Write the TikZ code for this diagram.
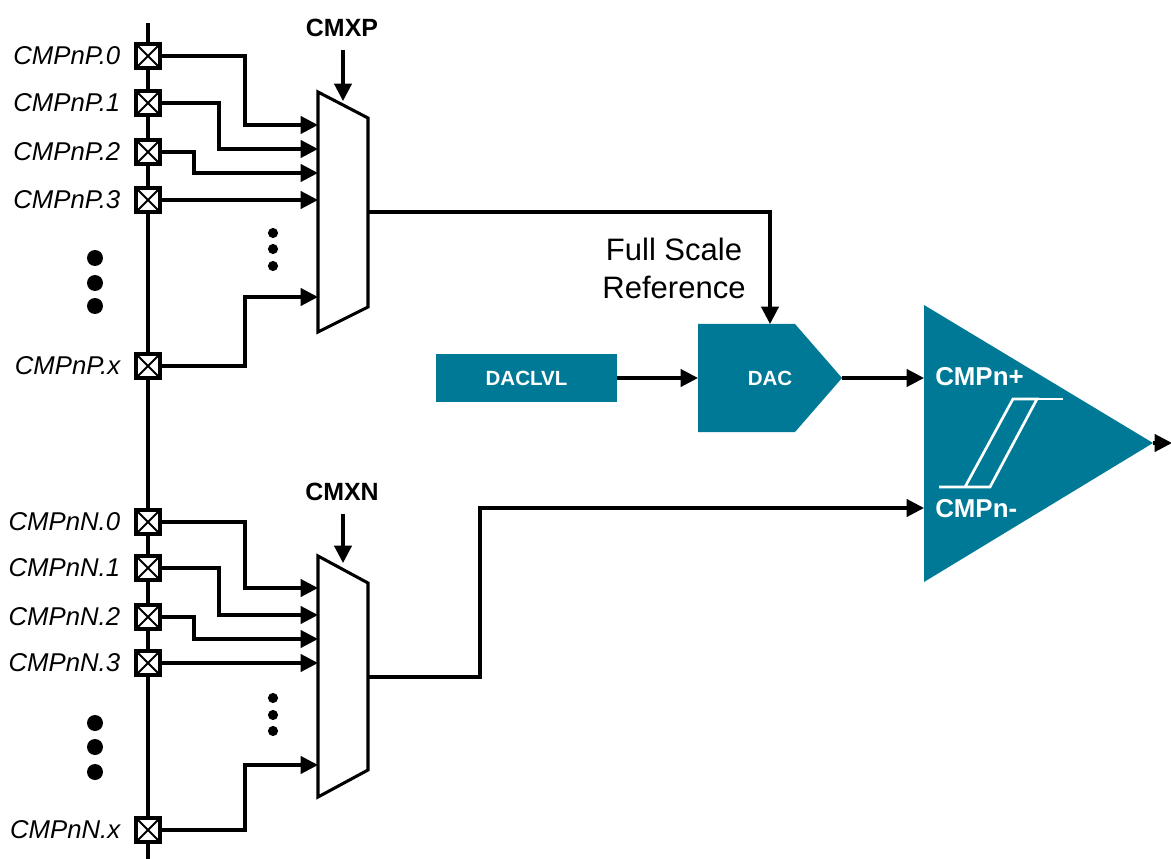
\documentclass[tikz,border=0pt]{standalone}
\usepackage{fontspec}
\setmainfont{Liberation Sans}
\usetikzlibrary{arrows.meta}
\definecolor{tiTeal}{RGB}{0,121,151}
\begin{document}
\begin{tikzpicture}[x=0.75pt,y=-0.75pt,
  wire/.style={line width=2.3pt},
  arr/.style={wire,-{Triangle[length=13pt,width=13pt]}},
  pinbox/.style={draw,line width=2.3pt,fill=white,minimum size=18pt,inner sep=0pt,
    path picture={\draw[line width=1.5pt] (path picture bounding box.north west)--(path picture bounding box.south east)
      (path picture bounding box.south west)--(path picture bounding box.north east);}},
  pinlabel/.style={anchor=east,font=\itshape\fontsize{19.3}{22}\selectfont,inner sep=0pt},
  muxlabel/.style={font=\bfseries\fontsize{18.7}{22}\selectfont},
  muxshape/.style={draw,line width=2.3pt,fill=white},
  tealbox/.style={fill=tiTeal,text=white,font=\bfseries\fontsize{15.4}{18}\selectfont,inner sep=0pt},
  cmplabel/.style={anchor=west,text=white,font=\bfseries\fontsize{19.4}{22}\selectfont,inner sep=0pt},
  dot/.style={fill=black}
]
\useasboundingbox (0,0) rectangle (1171,859);

% bus
\coordinate (busTop) at (148,23);
\coordinate (busBot) at (148,862);
\draw[wire] (busTop) -- (busBot);

% ---------------- P side ----------------
\node[pinbox] (p0) at (148,56) {};
\node[pinbox] (p1) at (148,103) {};
\node[pinbox] (p2) at (148,152) {};
\node[pinbox] (p3) at (148,200) {};
\node[pinbox] (px) at (148,366) {};
\node[pinlabel] (lp0) at ([xshift=-10.5pt]p0.west) {CMPnP.0};
\node[pinlabel] (lp1) at ([xshift=-10.5pt]p1.west) {CMPnP.1};
\node[pinlabel] (lp2) at ([xshift=-10.5pt]p2.west) {CMPnP.2};
\node[pinlabel] (lp3) at ([xshift=-10.5pt]p3.west) {CMPnP.3};
\node[pinlabel] (lpx) at ([xshift=-10.5pt]px.west) {CMPnP.x};

\draw[muxshape] (318,92) coordinate (mPtl) -- (368,118) coordinate (mPtr) -- (368,307) coordinate (mPbr) -- (318,332) coordinate (mPbl) -- cycle;
\coordinate (mPi0) at (318,125);
\coordinate (mPi1) at (318,149);
\coordinate (mPi2) at (318,173);
\coordinate (mPi3) at (318,200);
\coordinate (mPix) at (318,297);
\coordinate (mPo) at (368,212);

\draw[arr] (p0.east) -| (245,125) -- (mPi0);
\draw[arr] (p1.east) -| (219,149) -- (mPi1);
\draw[arr] (p2.east) -| (194,173) -- (mPi2);
\draw[arr] (p3.east) -- (mPi3);
\draw[arr] (px.east) -| (245,297) -- (mPix);

\node[muxlabel] (cmxp) at (342,28) {CMXP};
\coordinate (cmxpTip) at (343,101);
\draw[arr] ([yshift=-6.5pt]cmxp.south -| cmxpTip) -- (cmxpTip);

\fill[dot] (95,258) circle[radius=6pt] (95,283) circle[radius=6pt] (95,306) circle[radius=6pt];
\fill[dot] (273,233) circle[radius=3.8pt] (273,249) circle[radius=3.8pt] (273,266) circle[radius=3.8pt];

% ---------------- N side ----------------
\node[pinbox] (n0) at (148,522) {};
\node[pinbox] (n1) at (148,568) {};
\node[pinbox] (n2) at (148,617) {};
\node[pinbox] (n3) at (148,663) {};
\node[pinbox] (nx) at (148,830) {};
\node[pinlabel] (ln0) at ([xshift=-10.5pt]n0.west) {CMPnN.0};
\node[pinlabel] (ln1) at ([xshift=-10.5pt]n1.west) {CMPnN.1};
\node[pinlabel] (ln2) at ([xshift=-10.5pt]n2.west) {CMPnN.2};
\node[pinlabel] (ln3) at ([xshift=-10.5pt]n3.west) {CMPnN.3};
\node[pinlabel] (lnx) at ([xshift=-10.5pt]nx.west) {CMPnN.x};

\draw[muxshape] (318,556) coordinate (mNtl) -- (368,583) coordinate (mNtr) -- (368,770) coordinate (mNbr) -- (318,797) coordinate (mNbl) -- cycle;
\coordinate (mNi0) at (318,588);
\coordinate (mNi1) at (318,615);
\coordinate (mNi2) at (318,639);
\coordinate (mNi3) at (318,663);
\coordinate (mNix) at (318,765);
\coordinate (mNo) at (368,677);

\draw[arr] (n0.east) -| (245,588) -- (mNi0);
\draw[arr] (n1.east) -| (219,615) -- (mNi1);
\draw[arr] (n2.east) -| (194,639) -- (mNi2);
\draw[arr] (n3.east) -- (mNi3);
\draw[arr] (nx.east) -| (245,765) -- (mNix);

\node[muxlabel] (cmxn) at (342,492) {CMXN};
\coordinate (cmxnTip) at (343,563);
\draw[arr] ([yshift=-6.5pt]cmxn.south -| cmxnTip) -- (cmxnTip);

\fill[dot] (95,723) circle[radius=6pt] (95,747) circle[radius=6pt] (95,772) circle[radius=6pt];
\fill[dot] (273,698) circle[radius=3.8pt] (273,715) circle[radius=3.8pt] (273,731) circle[radius=3.8pt];

% ---------------- DAC ----------------
\node[tealbox,minimum width=135.75pt,minimum height=36pt] (daclvl) at (526.5,378) {DACLVL};
\fill[tiTeal] (698,324) -- (795,324) -- (842,378) -- (795,432) -- (698,432) -- cycle;
\node[tealbox] (dac) at (770,378) {DAC};
\coordinate (dacIn) at (698,378);
\coordinate (dacTop) at (770,324);
\coordinate (dacOut) at (842,378);
\draw[arr] (daclvl.east) -- (dacIn);
\draw[arr] (mPo) -| (dacTop);
\node[align=center,font=\fontsize{23.25}{28.5}\selectfont,inner sep=0pt] (fsr) at (674,268) {Full Scale\\Reference};

% ---------------- Comparator ----------------
\fill[tiTeal] (924,305) -- (1153,443) -- (924,582) -- cycle;
\coordinate (cmpP) at (924,378);
\coordinate (cmpN) at (924,508);
\coordinate (cmpOut) at (1153,443);
\coordinate (outEnd) at (1172,443);
\node[cmplabel] (lplus) at (935,377) {CMPn+};
\node[cmplabel] (lminus) at (935,509) {CMPn-};
\draw[white,line width=2pt] (939,487) -- (990,487) -- (1037,399) -- (1013,399) -- (965,487);
\draw[white,line width=2pt] (1013,399) -- (1063,399);
\draw[arr] (dacOut) -- (cmpP);
\draw[arr] (mNo) -| (480,508) -- (cmpN);
\draw[arr] (cmpOut) -- (outEnd);
\end{tikzpicture}
\end{document}
